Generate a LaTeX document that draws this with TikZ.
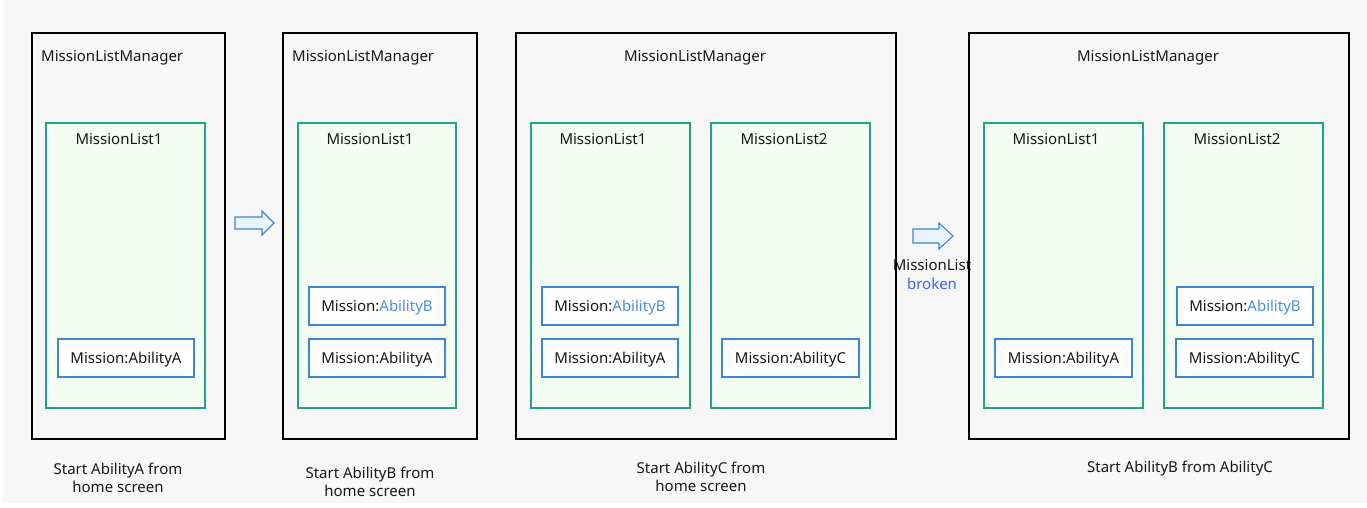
\documentclass[tikz,border=0pt]{standalone}
\usepackage{fontspec}
\setmainfont{Noto Sans}
\definecolor{bggray}{HTML}{F7F7F7}
\definecolor{listgreen}{HTML}{1BA58A}
\definecolor{listfill}{HTML}{F5FCF4}
\definecolor{misblue}{HTML}{3A87D4}
\definecolor{abblue}{HTML}{4A8FE0}
\definecolor{brokenblue}{HTML}{3C64F0}
\definecolor{arrowfill}{HTML}{EAF4FE}
\begin{document}
\begin{tikzpicture}[x=1pt,y=-1pt,
  every node/.style={font=\fontsize{15}{18.4}\selectfont, text=black!90},
  outer/.style={draw=black, line width=1.2pt, fill=none, minimum height=406pt, inner sep=0pt},
  listbox/.style={draw=listgreen, line width=1.1pt, fill=listfill, minimum width=159pt, minimum height=285pt, inner sep=0pt},
  misbox/.style={draw=misblue, line width=1.1pt, fill=white, minimum width=136pt, minimum height=38pt, inner sep=0pt, text height=10.7pt, text depth=0pt},
  lbl/.style={inner sep=0pt, anchor=center, text height=10.7pt, text depth=0pt},
  bigarrow/.style={draw=misblue, line width=1.1pt, fill=arrowfill, line join=miter},
  captext/.style={align=center, inner sep=0pt}
]
\useasboundingbox (0,0) rectangle (1367,507);
\fill[white] (0,0) rectangle (1367,507);
\fill[bggray] (3,0) rectangle (1367,503);

% ---------- Panel 1 ----------
\node[outer, minimum width=193pt] (p1) at (128.5,236) {};
\node[lbl, anchor=west] (t1) at (41,56.5) {MissionListManager};
\node[listbox] (p1l1) at (125.5,265.5) {};
\node[lbl] (p1l1t) at (119,139.2) {MissionList1};
\node[misbox] (p1a) at (126,358) {Mission:AbilityA};
\node[captext] (c1) at (118,478) {Start AbilityA from\\home screen};

% arrow 1
\draw[bigarrow] (235,217) coordinate (a1s) -- (262,217) -- (262,211) -- (274,223) coordinate (a1t) -- (262,235) -- (262,229) -- (235,229) -- cycle;

% ---------- Panel 2 ----------
\node[outer, minimum width=194pt] (p2) at (380,236) {};
\node[lbl, anchor=west] (t2) at (292,56.5) {MissionListManager};
\node[listbox, minimum width=158pt] (p2l1) at (377,265.5) {};
\node[lbl] (p2l1t) at (370,139.2) {MissionList1};
\node[misbox] (p2b) at (377,306) {Mission:\textcolor{abblue}{AbilityB}};
\node[misbox] (p2a) at (377,358) {Mission:AbilityA};
\node[captext] (c2) at (370,482) {Start AbilityB from\\home screen};

% ---------- Panel 3 ----------
\node[outer, minimum width=380pt] (p3) at (706,236) {};
\node[lbl] (t3) at (695,56.5) {MissionListManager};
\node[listbox] (p3l1) at (610.5,265.5) {};
\node[lbl] (p3l1t) at (603,139.2) {MissionList1};
\node[listbox] (p3l2) at (790.5,265.5) {};
\node[lbl] (p3l2t) at (784,139.2) {MissionList2};
\node[misbox] (p3b) at (610,306) {Mission:\textcolor{abblue}{AbilityB}};
\node[misbox] (p3a) at (610,358) {Mission:AbilityA};
\node[misbox, minimum width=137pt] (p3c) at (790.5,358) {Mission:AbilityC};
\node[captext] (c3) at (701,477) {Start AbilityC from\\home screen};

% arrow 2
\draw[bigarrow] (913,229) coordinate (a2s) -- (939,229) -- (939,223) -- (953,236) coordinate (a2t) -- (939,249) -- (939,243) -- (913,243) -- cycle;
\node[captext] (a2lbl) at (932,274.5) {MissionList\\\textcolor{brokenblue}{broken}};

% ---------- Panel 4 ----------
\node[outer, minimum width=380pt] (p4) at (1159,236) {};
\node[lbl] (t4) at (1148,56.5) {MissionListManager};
\node[listbox] (p4l1) at (1063.5,265.5) {};
\node[lbl] (p4l1t) at (1056,139.2) {MissionList1};
\node[listbox] (p4l2) at (1243.5,265.5) {};
\node[lbl] (p4l2t) at (1237,139.2) {MissionList2};
\node[misbox, minimum width=137pt] (p4a) at (1063.5,358) {Mission:AbilityA};
\node[misbox] (p4b) at (1245,306) {Mission:\textcolor{abblue}{AbilityB}};
\node[misbox, minimum width=137pt] (p4c) at (1244.5,358) {Mission:AbilityC};
\node[lbl] (c4) at (1180,467.5) {Start AbilityB from AbilityC};
\end{tikzpicture}
\end{document}
